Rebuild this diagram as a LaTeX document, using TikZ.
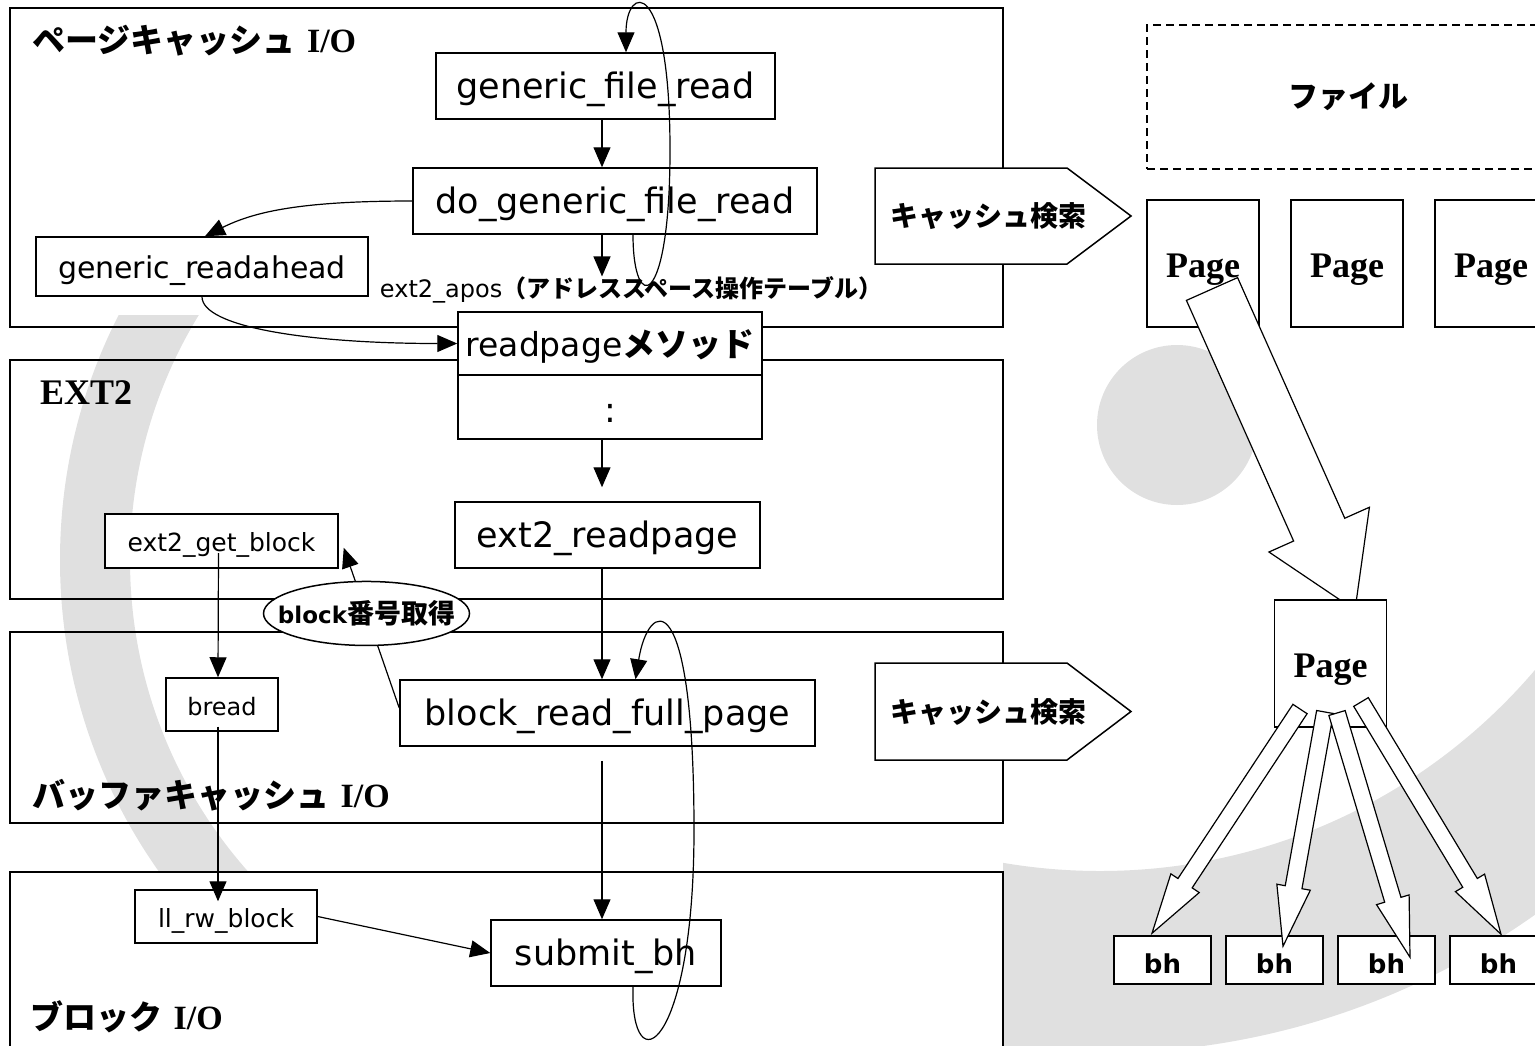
\documentclass[tikz,border=0pt]{standalone}
\usepackage{fontspec}
\setmainfont{DejaVu Sans}
\newfontfamily\jpfont{Noto Sans CJK JP}
\newfontfamily\tmsfont{Liberation Serif}
\usetikzlibrary{arrows.meta, calc, shapes.geometric}

% hollow block arrow: tail, tip, half shaft, half head, head length
\newcommand{\fatarrow}[5]{%
  \coordinate (fa-n) at ($(#2)!#5!(#1)$);
  \draw[hollow] ($(#1)!#3!90:(#2)$) -- ($(fa-n)!#3!-90:(#1)$) -- ($(fa-n)!#4!-90:(#1)$) -- (#2)
    -- ($(fa-n)!#4!90:(#1)$) -- ($(fa-n)!#3!90:(#1)$) -- ($(#1)!#3!-90:(#2)$) -- cycle;}

\begin{document}
\begin{tikzpicture}[x=1pt, y=-1pt,
    wmark/.style = {fill=black!12, draw=none},
    layer/.style = {draw, line width=1.5pt},
    func/.style = {draw, fill=white, line width=1.5pt, inner sep=0pt, text height=25pt, text depth=0pt, font=\fontsize{35}{40}\selectfont},
    small/.style = {func, text height=21pt, font=\fontsize{25}{30}\selectfont},
    title/.style = {anchor=west, inner sep=0pt, font=\bfseries\fontsize{33}{36}\selectfont},
    link/.style = {line width=1.2pt, -{Triangle[length=20pt, width=17pt]}},
    oval/.style = {ellipse, draw, fill=white, line width=1.5pt, inner sep=0pt, minimum width=206pt, minimum height=64pt},
    hollow/.style = {draw, fill=white, line width=1.2pt, line join=miter},
    search/.style = {draw, fill=white, line width=1.5pt, line join=miter},
    jpbig/.style = {font=\jpfont\bfseries\fontsize{28}{32}\selectfont},
    pagebox/.style = {draw, fill=white, line width=1.5pt, inner sep=0pt, minimum width=112pt, minimum height=127pt,
                      text height=27pt, text depth=0pt, font=\tmsfont\bfseries\fontsize{36}{40}\selectfont},
    bhbox/.style = {draw, fill=white, line width=1.5pt, inner sep=0pt, minimum width=97pt, minimum height=48pt,
                    text height=26pt, text depth=0pt, font=\bfseries\fontsize{26}{30}\selectfont}]
  \useasboundingbox (0,0) rectangle (1535,1045);
  \clip (0,0) rectangle (1535,1045);

  % watermark
  \begin{scope}
    \clip (1003,0) rectangle (1535,1045);
    \fill[wmark, even odd rule] (1100,300) circle[radius=753] (1100,300) circle[radius=571];
  \end{scope}
  \fill[wmark] (1177,425) circle[radius=80];
  \begin{scope}
    \clip (0,315) rectangle (260,872);
    \fill[wmark, even odd rule] (600,560) circle[radius=540] (600,560) circle[radius=470];
  \end{scope}

  % layers
  \draw[layer] (10,8) rectangle (1003,327);
  \node[title] (tpc) at (32,41) {{\jpfont ページキャッシュ}\ {\tmsfont\fontsize{34}{36}\selectfont I/O}};
  \draw[layer] (10,360) rectangle (1003,599);
  \node[title] (text2) at (40,393) {\tmsfont\fontsize{36}{40}\selectfont EXT2};
  \draw[layer] (10,632) rectangle (1003,823);
  \node[title] (tbc) at (32,795) {{\jpfont バッファキャッシュ}\ {\tmsfont\fontsize{34}{36}\selectfont I/O}};
  \draw[layer] (10,872) rectangle (1003,1070);
  \node[title] (tblk) at (30,1017) {{\jpfont ブロック}\ {\tmsfont\fontsize{34}{36}\selectfont I/O}};

  % functions
  \node[func, minimum width=339pt, minimum height=66pt] (gfr) at (605.5,86) {generic\_file\_read};
  \node[func, minimum width=404pt, minimum height=66pt] (dgfr) at (615,201) {do\_generic\_file\_read};
  \node[func, text height=23pt, font=\fontsize{30}{34}\selectfont, minimum width=332pt, minimum height=59pt] (gra) at (202,266.5) {generic\_readahead};
  \node[inner sep=0pt, font=\fontsize{24}{28}\selectfont] (apos) at (631,290) {ext2\_apos{\jpfont\bfseries （アドレススペース操作テーブル）}};
  \node[func, text height=26pt, font=\fontsize{33}{38}\selectfont, minimum width=304pt, minimum height=63pt] (rpm) at (610,343.5) {readpage{\jpfont\bfseries メソッド}};
  \node[func, text height=31pt, minimum width=304pt, minimum height=64pt] (rpd) at (610,407) {:};
  \node[func, minimum width=305pt, minimum height=66pt] (e2rp) at (607.5,535) {ext2\_readpage};
  \node[small, minimum width=233pt, minimum height=54pt] (egb) at (221.5,541) {ext2\_get\_block};
  \node[small, font=\fontsize{24}{28}\selectfont, minimum width=112pt, minimum height=53pt] (bread) at (222,704.5) {bread};
  \node[func, minimum width=415pt, minimum height=66pt] (brfp) at (607.5,713) {block\_read\_full\_page};
  \node[small, minimum width=182pt, minimum height=53pt] (llrw) at (226,916.5) {ll\_rw\_block};
  \node[func, minimum width=230pt, minimum height=66pt] (sbh) at (606,953) {submit\_bh};

  % calls
  \coordinate (axis) at (602,0);
  \coordinate (loop1) at (670,150);
  \coordinate (loop2) at (694,830);
  \draw[link] (gfr.south -| axis) -- (dgfr.north -| axis);
  \draw[link] (dgfr.south -| axis) -- (apos.north -| axis);
  \draw[link] ([xshift=18pt]dgfr.south) .. controls +(0,80) and +(0,160) .. (loop1)
    .. controls +(0,-175) and +(0,-68) .. ([xshift=20.5pt]gfr.north);
  \draw[link] (dgfr.west) .. controls +(-110,0) and +(50,-25) .. ([xshift=3pt]gra.north);
  \draw[link] (gra.south) .. controls +(0,30) and +(-150,0) .. (rpm.west);
  \draw[link, shorten >=14pt] (rpd.south -| axis) -- (e2rp.north -| axis);
  \draw[link] (e2rp.south -| axis) -- (brfp.north -| axis);
  \draw[link, shorten <=14pt] (brfp.south -| axis) -- (sbh.north -| axis);
  \draw[link] ([xshift=27pt]sbh.south) .. controls +(-3,100) and +(0,220) .. (loop2)
    .. controls +(0,-250) and +(13,-80) .. ([xshift=28pt]brfp.north);
  \draw[link] ([xshift=-3pt,yshift=-12pt]egb.center) -- ([xshift=-4pt]bread.north);
  \draw[link] ([xshift=-4pt,yshift=-22pt]bread.center) -- ([xshift=-8pt,yshift=-12pt]llrw.north);
  \draw[link] (llrw.east) -- (sbh.west);
  \draw[link] ([yshift=5pt]brfp.west) -- node[pos=0.59, oval,
      label={[inner sep=0pt, font=\bfseries]center:{\fontsize{23}{28}\selectfont block}{\jpfont\fontsize{27}{30}\selectfont 番号取得}}] (bno) {}
    ([xshift=5pt,yshift=21pt]egb.south east);

  % cache search
  \draw[search] (875,168) -- (1067,168) -- (1131,216) -- (1067,264) -- (875,264) -- cycle;
  \node[jpbig] (srch1) at (988,216) {キャッシュ検索};
  \draw[search] (875,663) -- (1067,663) -- (1131,711.5) -- (1067,760) -- (875,760) -- cycle;
  \node[jpbig] (srch2) at (988,712) {キャッシュ検索};

  % file and pages
  \node[draw, dash pattern=on 8pt off 5pt, line width=1.2pt, minimum width=403pt, minimum height=144pt,
        inner sep=0pt, font=\jpfont\bfseries\fontsize{30}{34}\selectfont] (file) at (1348.5,97) {ファイル};
  \foreach \x [count=\i] in {1203,1347,1491}
    \node[pagebox] (pg\i) at (\x,263.5) {Page};
  \coordinate (ba1) at (1212,289);
  \coordinate (ba2) at (1355,610);
  \fatarrow{ba1}{ba2}{28pt}{55pt}{88pt}
  \node[pagebox] (pgl) at (1330.5,663.5) {Page};
  \foreach \x [count=\i] in {1162.5,1274.5,1386.5,1498.5}
    \node[bhbox] (bh\i) at (\x,960) {bh};
  \foreach \i/\sx/\sy/\ex/\ey in {1/-30.5/-45.5/-10.5/2, 2/-5.5/-48.5/8.5/-11,
                                  3/6.5/-49.5/23.5/-22, 4/30.5/-38.5/2.5/1} {
    \coordinate (s\i) at ([shift={(\sx pt,\sy pt)}]pgl.center);
    \coordinate (e\i) at ([shift={(\ex pt,\ey pt)}]bh\i.north);
    \fatarrow{s\i}{e\i}{8.5pt}{17pt}{60pt}
  }
\end{tikzpicture}
\end{document}
